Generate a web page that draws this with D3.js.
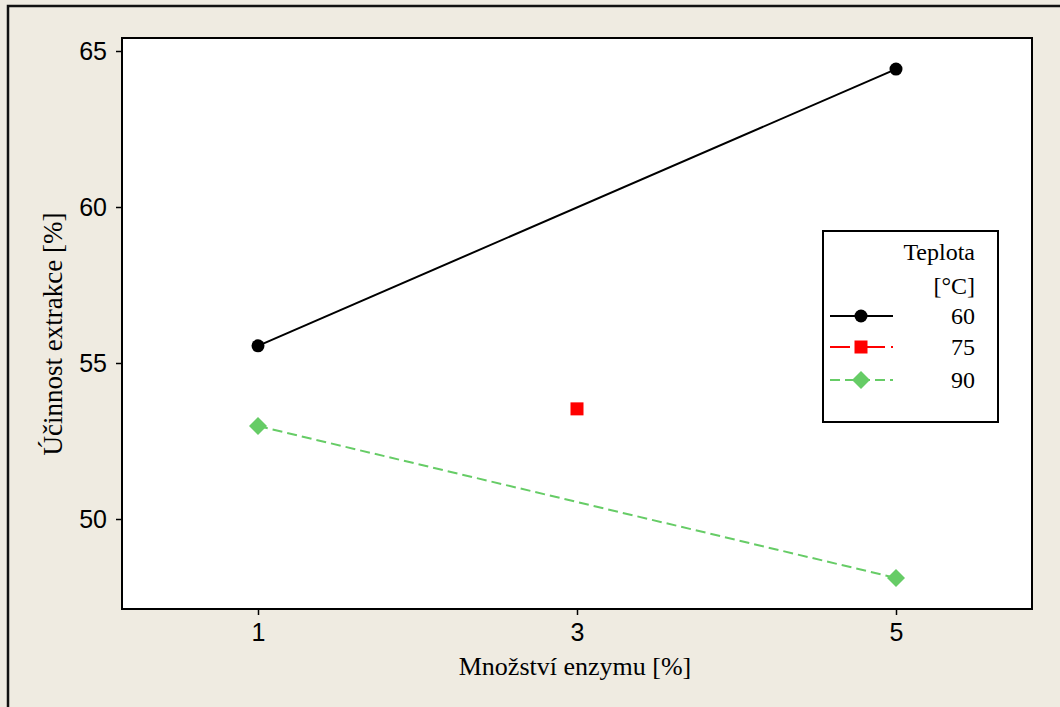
<!DOCTYPE html>
<html>
<head>
<meta charset="utf-8">
<script src="https://cdn.jsdelivr.net/npm/d3@7"></script>
<style>
  html, body { margin: 0; padding: 0; background: #efebe1; }
  svg { display: block; }
</style>
</head>
<body>
<svg id="chart" width="1060" height="707"></svg>
<script>
// --- data ---
const enzyme = [1, 3, 5];
const temps = ["60", "75", "90"];
const eff60 = [55.55, null, 64.42];
const eff75 = [null, 53.53, null];
const eff90 = [52.98, null, 48.11];
const yTicks = [50, 55, 60, 65];

const series = [
  { name: temps[0], values: eff60, color: "#000000", dash: null, shape: "circle" },
  { name: temps[1], values: eff75, color: "#ff0000", dash: "20,6,3,6", shape: "square" },
  { name: temps[2], values: eff90, color: "#66cc66", dash: "10,5", shape: "diamond" }
];

const svg = d3.select("#chart");
const W = 1060, H = 707;

// background + outer frame
svg.append("rect").attr("width", W).attr("height", H).attr("fill", "#efebe1");
svg.append("rect")
  .attr("x", 8).attr("y", 6).attr("width", W + 20).attr("height", H + 20)
  .attr("fill", "none").attr("stroke", "#111").attr("stroke-width", 2.5);

// plot area
const plot = { left: 122, top: 38, right: 1032, bottom: 609 };

const x = d3.scaleLinear()
  .domain([1 - 136 / 159.5, 5 + 136 / 159.5])
  .range([plot.left, plot.right]);
const y = d3.scaleLinear()
  .domain([50 - 90 / 31.2, 65 + 13 / 31.2])
  .range([plot.bottom, plot.top]);

svg.append("rect")
  .attr("x", plot.left).attr("y", plot.top)
  .attr("width", plot.right - plot.left).attr("height", plot.bottom - plot.top)
  .attr("fill", "#ffffff").attr("stroke", "#000").attr("stroke-width", 2);

// --- axes ---
const xAxis = svg.append("g")
  .attr("transform", `translate(0,${plot.bottom})`)
  .call(d3.axisBottom(x).tickValues(enzyme).tickSize(6).tickPadding(8).tickFormat(d3.format("d")));
const yAxis = svg.append("g")
  .attr("transform", `translate(${plot.left},0)`)
  .call(d3.axisLeft(y).tickValues(yTicks).tickSize(6).tickPadding(9).tickFormat(d3.format("d")));

[xAxis, yAxis].forEach(a => {
  a.select(".domain").remove();
  a.selectAll(".tick line").attr("stroke", "#000").attr("stroke-width", 1.5);
  a.selectAll("text")
    .attr("fill", "#000")
    .style("font-family", "'Liberation Sans', Arial, sans-serif")
    .style("font-size", "25px");
});

// axis titles
svg.append("text")
  .attr("x", 575).attr("y", 675)
  .attr("text-anchor", "middle")
  .style("font-family", "'Liberation Serif', 'Times New Roman', serif")
  .style("font-size", "26px")
  .text("Množství enzymu [%]");

svg.append("text")
  .attr("transform", "translate(62,334) rotate(-90)")
  .attr("text-anchor", "middle")
  .style("font-family", "'Liberation Serif', 'Times New Roman', serif")
  .style("font-size", "27px")
  .text("Účinnost extrakce [%]");

// --- lines and markers ---
function drawMarker(g, shape, cx, cy, color) {
  if (shape === "circle") {
    g.append("circle").attr("cx", cx).attr("cy", cy).attr("r", 6.5).attr("fill", color);
  } else if (shape === "square") {
    g.append("rect").attr("x", cx - 6.5).attr("y", cy - 6.5)
      .attr("width", 13).attr("height", 13).attr("fill", color);
  } else {
    const r = 9;
    g.append("path")
      .attr("d", `M${cx},${cy - r}L${cx + r},${cy}L${cx},${cy + r}L${cx - r},${cy}Z`)
      .attr("fill", color);
  }
}

const line = d3.line()
  .defined(d => d.v != null)
  .x(d => x(d.e))
  .y(d => y(d.v));

series.forEach(s => {
  const pts = enzyme.map((e, i) => ({ e, v: s.values[i] })).filter(d => d.v != null);
  const g = svg.append("g");
  g.append("path")
    .datum(pts)
    .attr("d", line)
    .attr("fill", "none")
    .attr("stroke", s.color)
    .attr("stroke-width", 2)
    .attr("stroke-dasharray", s.dash);
  pts.forEach(d => drawMarker(g, s.shape, x(d.e), y(d.v), s.color));
});

// --- legend ---
const leg = svg.append("g");
leg.append("rect")
  .attr("x", 823).attr("y", 231).attr("width", 175).attr("height", 191)
  .attr("fill", "#fff").attr("stroke", "#000").attr("stroke-width", 2);

const legFont = "'Liberation Serif', 'Times New Roman', serif";
leg.append("text").attr("x", 975).attr("y", 260).attr("text-anchor", "end")
  .style("font-family", legFont).style("font-size", "24px").text("Teplota");
leg.append("text").attr("x", 975).attr("y", 294).attr("text-anchor", "end")
  .style("font-family", legFont).style("font-size", "24px").text("[°C]");

const rowY = [316, 347, 380];
series.forEach((s, i) => {
  const cy = rowY[i];
  leg.append("line")
    .attr("x1", 830).attr("x2", 893).attr("y1", cy).attr("y2", cy)
    .attr("stroke", s.color).attr("stroke-width", 2)
    .attr("stroke-dasharray", s.dash);
  drawMarker(leg, s.shape, 861, cy, s.color);
  leg.append("text").attr("x", 975).attr("y", cy + 8).attr("text-anchor", "end")
    .style("font-family", legFont).style("font-size", "24px").text(s.name);
});
</script>
</body>
</html>
